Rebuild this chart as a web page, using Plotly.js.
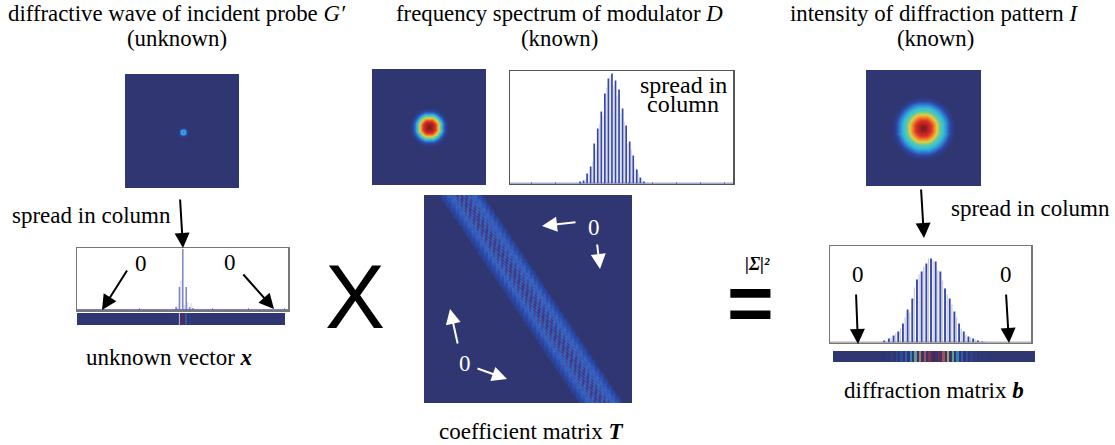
<!DOCTYPE html>
<html><head><meta charset="utf-8">
<script src="https://cdn.plot.ly/plotly-3.0.1.min.js"></script>
<style>html,body{margin:0;padding:0;background:#fff;overflow:hidden}#c{width:1115px;height:445px}</style>
</head><body><div id="c"></div>
<script>
const W=1115,H=445;
// radial intensity tables (one entry per 1 px of radius)
const probeRadial=[.16,.22,.36,.3,.1,.03,0];
const modulatorRadial=[1,1,.98,.96,.94,.91,.88,.84,.78,.7,.62,.53,.44,.36,.28,.2,.14,.09,.05,.02,0];
const patternRadial=[1,1,.99,.97,.95,.93,.91,.89,.87,.84,.81,.77,.73,.68,.63,.58,.53,.49,.45,.42,.39,.36,.33,.29,.25,.21,.17,.13,.09,.06,.04,.02,0];
// spectrum spikes
const dValues=[2,3,10,17,40,55,72,90,105,110,103,94,75,58,42,28,14,6,2];
const dGhost=[1,5,9,22,34,60,68,96,108,98,88,70,62,40,34,16,10,5,1];
const xValues=[3,23,61,23,3,2];
const xGhost=[4,30,5,8,7,1];
const xStripValues=[1,8,60,12,2,1];
const bValues=[2,4,7,11,19,33,44,63,71,79,84,81,71,54,44,31,19,11,6,4,2,1];
const bGhost=[1,5,9,14,25,30,55,68,76,84,82,72,62,48,38,25,14,8,5,3,1,1];

const jet=[[0,'#2f3672'],[.12,'#2c47a8'],[.25,'#2f7fd0'],[.38,'#35bfd8'],[.5,'#6cc99a'],[.62,'#e2d13c'],[.75,'#f08a2c'],[.88,'#d92a26'],[1,'#7e1a1c']];
const stripScale=[[0,'#2f3672'],[.14,'#2f4a9e'],[.35,'#3079b8'],[.5,'#4a9a9a'],[.62,'#a8a860'],[.75,'#b87050'],[.88,'#a84050'],[1,'#5a2048']];
const bandScale=[[0,'#2f3672'],[.15,'#2c3f92'],[.35,'#2d52b4'],[.55,'#3868c4'],[.78,'#3c4a9c'],[1,'#40327a']];

const traces=[],layout={width:W,height:H,margin:{l:0,r:0,t:0,b:0},paper_bgcolor:'#fff',plot_bgcolor:'rgba(0,0,0,0)',
  showlegend:false,barmode:'overlay',annotations:[],hovermode:false};
let axisN=0;
function panel(box,xr,yr,frame,dtick){
  axisN++;const s=axisN===1?'':axisN;
  const base={showgrid:false,zeroline:false,showticklabels:false,ticks:'',fixedrange:true,layer:'below traces'};
  const line=frame?{showline:true,mirror:true,linecolor:frame,linewidth:1.5}:{showline:false};
  layout['xaxis'+s]=Object.assign({},base,line,{domain:[box[0]/W,box[1]/W],range:xr,anchor:'y'+s});
  if(dtick)Object.assign(layout['xaxis'+s],{ticks:'inside',ticklen:2,tickwidth:1,tickcolor:'#8a90c8',tick0:0,dtick});
  layout['yaxis'+s]=Object.assign({},base,line,{domain:[1-box[3]/H,1-box[2]/H],range:yr,anchor:'x'+s});
  return {xaxis:'x'+s,yaxis:'y'+s};
}
function radialMap(table,box,cx,cy){
  const z=[],nx=box[1]-box[0],ny=box[3]-box[2];
  for(let j=0;j<ny;j++){const row=[];for(let i=0;i<nx;i++){
    const k=Math.round(Math.hypot(box[0]+i+.5-cx,box[2]+j+.5-cy));row.push(k<table.length?table[k]:0);}z.push(row);}
  const a=panel(box,[-.5,nx-.5],[ny-.5,-.5]);
  traces.push(Object.assign({type:'heatmap',z,zmin:0,zmax:1,colorscale:jet,showscale:false,zsmooth:'best',hoverinfo:'skip'},a));
}
function spikes(box,vals,ghost,x0,step,barW,base,opts){
  const idx=vals.map((_,i)=>i);
  const xr=[(box[0]-x0)/step,(box[1]-x0)/step];
  const yr=[-(box[3]-base),base-box[2]];
  const a=panel(box,xr,yr,opts.frame||'#777',opts.dtick);
  traces.push(Object.assign({type:'bar',x:idx.map(i=>i+(opts.ghostShift||.45)),y:ghost,width:opts.ghostW||barW*.7,marker:{color:opts.ghostColor||'#d6d7e6',line:{width:0}},hoverinfo:'skip'},a));
  traces.push(Object.assign({type:'bar',x:idx,y:vals,width:barW,marker:{color:opts.color||'#3547a8',line:{width:0}},hoverinfo:'skip'},a));
  traces.push(Object.assign({type:'scatter',mode:'lines',x:xr,y:[0,0],cliponaxis:false,line:{color:opts.baseColor||'#4a57ad',width:1.5},hoverinfo:'skip'},a));
}
function strip(box,vals,x0,step,zmax){
  const a=[];const lo=Math.floor((box[0]-x0)/step),hi=Math.ceil((box[1]-x0)/step);
  const xs=[];for(let i=lo*2;i<=hi*2;i++){xs.push(i/2);const k=i/2;a.push(Number.isInteger(k)&&k>=0&&k<vals.length?vals[k]:0);}
  const ax=panel(box,[(box[0]-x0)/step,(box[1]-x0)/step],[-.5,1.5]);
  traces.push(Object.assign({type:'heatmap',x:xs,y:[0,1],z:[a,a],zmin:0,zmax,colorscale:stripScale,showscale:false,hoverinfo:'skip'},ax));
  return ax;
}
// images
radialMap(probeRadial,[125,239,74,188],183,132);
radialMap(modulatorRadial,[372,486,69,185],429,127);
radialMap(patternRadial,[866,981,70,186],923,128);
// coefficient matrix: the modulator column, shifted row after row
(function(){
  const box=[424,632,195,403],n=208,z=[];
  for(let r=0;r<n;r++){const row=[];const off=16+r*.673;
    for(let c=0;c<n;c++){const k=Math.round((c-off)/2.3);
      const v=(k>=0&&k<dValues.length)?dValues[k]:0;
      const env=Math.pow(v/110,.38);
      const lit=(k%2===0)===((r%6)<3);
      row.push(v===0?0:(lit?env*.58:env));}
    z.push(row);}
  const a=panel(box,[-.5,n-.5],[n-.5,-.5]);
  traces.push(Object.assign({type:'heatmap',z,zmin:0,zmax:1,colorscale:bandScale,showscale:false,zsmooth:'best',hoverinfo:'skip'},a));
})();
// spectra and vectors
spikes([510,733,71,183.5],dValues,dGhost,580,3.55,.48,183.5,{frame:'#555',dtick:6.8,ghostW:.26,ghostShift:.5});
spikes([77,288,248,310],xValues,xGhost,176,3.4,.45,310,{color:'#7f86c4',dtick:10.6});
const xs=strip([77,285,313,325],xStripValues,176,3.4,61);
traces.push(Object.assign({type:'scatter',mode:'lines',x:[1,1],y:[-.5,1.5],line:{color:'#b8bcd8',width:1},hoverinfo:'skip'},xs));
spikes([830,1031,246,342.5],bValues,bGhost,884.2,4.68,.4,342.5,{baseColor:'#666',ghostShift:.46,ghostW:.26,ghostColor:'#c8c9dc'});
strip([833,1035,351,362],bValues,887.5,4.68,84);

const SERIF='"Liberation Serif",serif';
function text(t,x,y,size,opts){
  layout.annotations.push(Object.assign({text:t,xref:'paper',yref:'paper',x:x/W,y:1-y/H,xanchor:'center',yanchor:'middle',showarrow:false,
    font:{family:SERIF,size,color:'#000'}},opts||{}));
}
function arrow(x0,y0,x1,y1,color){
  layout.annotations.push({text:'',xref:'paper',yref:'paper',x:x1/W,y:1-y1/H,axref:'pixel',ayref:'pixel',ax:x0-x1,ay:y0-y1,showarrow:true,
    arrowhead:2,arrowsize:1.5,arrowwidth:2,arrowcolor:color||'#000'});
}
text('diffractive wave of incident probe <i>G′</i>',177,14,22.8);
text('(unknown)',177,38,22.8);
text('frequency spectrum of modulator <i>D</i>',559,14,22.8);
text('(known)',559,38,22.8);
text('intensity of diffraction pattern <i>I</i>',934,14,22.8);
text('(known)',935,38,22.8);
text('spread in column',91,215,23);
text('spread in',683,85,24);
text('column',683,104,24);
text('spread in column',1030,208,23);
text('unknown vector <b><i>x</i></b>',169,357,23);
text('coefficient matrix <b><i>T</i></b>',531,431,23);
text('diffraction matrix <b><i>b</i></b>',934,390,23);
text('0',141,263,23);text('0',230,262,23);
text('0',858,274,23);text('0',1006,274,23);
text('0',594,227,23,{font:{family:SERIF,size:23,color:'#fff'}});
text('0',465,363,23,{font:{family:SERIF,size:23,color:'#fff'}});
text('X',355,297,90,{font:{family:'"Liberation Sans",sans-serif',size:90,color:'#000'}});
text('=',750,302,80,{font:{family:'"Liberation Sans",sans-serif',size:80,color:'#000',weight:700}});
text('<b><i>|Σ|²</i></b>',757,264,18);
arrow(180,198,183,248);arrow(128,269,102,310);arrow(242,273,274,309);
arrow(921,188,924,238);arrow(856,293,858,344);arrow(1006,293,1009,343);
arrow(577,222,542,226,'#fff');arrow(597,243,600,269,'#fff');arrow(458,345,450,309,'#fff');arrow(476,368,507,379,'#fff');

Plotly.newPlot('c',traces,layout,{staticPlot:true,displayModeBar:false});
</script></body></html>
